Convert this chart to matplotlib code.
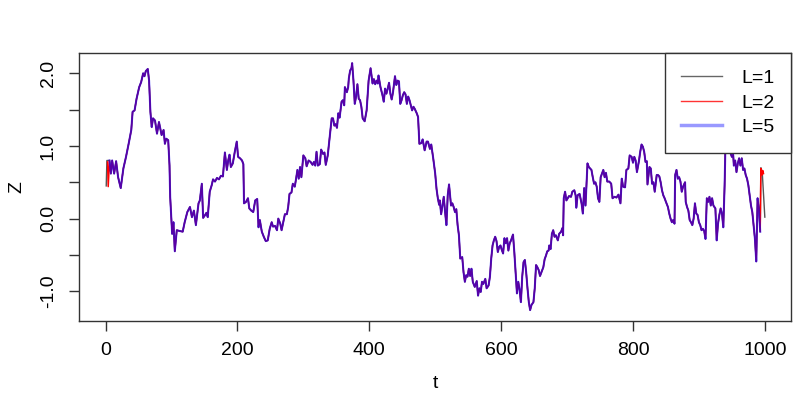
import matplotlib
matplotlib.use('Agg')
import matplotlib.pyplot as plt
from matplotlib.lines import Line2D

plt.rcParams['font.family'] = ['Liberation Sans', 'DejaVu Sans']

# values (shared path of the three series)
t = [6, 8, 10, 13, 16, 19, 23, 27, 31, 35, 39, 41, 44, 47, 51, 54, 57, 59, 61, 64,
     66, 68, 70, 72, 75, 78, 81, 85, 88, 90, 92, 95, 97, 98, 101, 103, 105, 108, 112, 117,
     120, 124, 128, 131, 134, 137, 141, 143, 146, 148, 151, 153, 155, 158, 161, 163, 166, 169, 172, 175,
     178, 181, 184, 186, 188, 190, 193, 196, 199, 201, 204, 207, 209, 210, 213, 216, 218, 221, 224, 227,
     230, 232, 234, 237, 240, 243, 246, 249, 252, 254, 257, 260, 262, 265, 267, 269, 272, 275, 277, 279,
     282, 284, 287, 289, 291, 293, 295, 297, 300, 303, 305, 308, 311, 314, 316, 318, 320, 322, 325, 327,
     330, 332, 334, 337, 340, 343, 345, 347, 349, 351, 353, 355, 358, 360, 362, 363, 366, 368, 369, 371,
     373, 374, 376, 378, 380, 382, 384, 386, 388, 390, 393, 396, 397, 399, 401, 402, 405, 407, 409, 411,
     413, 414, 417, 420, 422, 424, 426, 428, 430, 432, 434, 436, 439, 441, 443, 445, 447, 449, 451, 453,
     455, 457, 459, 461, 463, 465, 467, 469, 472, 474, 476, 479, 481, 484, 487, 489, 492, 494, 497, 500,
     502, 504, 506, 507, 509, 511, 513, 515, 517, 519, 521, 523, 524, 526, 528, 530, 532, 534, 536, 538,
     541, 543, 545, 547, 549, 551, 553, 555, 557, 560, 563, 565, 567, 569, 571, 573, 576, 578, 581, 583,
     585, 587, 589, 591, 593, 595, 597, 599, 601, 603, 605, 607, 609, 611, 613, 615, 618, 620, 622, 624,
     626, 628, 630, 632, 634, 636, 638, 640, 642, 644, 646, 649, 651, 653, 655, 657, 659, 662, 664, 666,
     668, 670, 672, 673, 675, 677, 679, 681, 683, 686, 688, 691, 693, 694, 695, 697, 699, 703, 706, 708,
     711, 713, 714, 716, 719, 722, 724, 726, 728, 731, 733, 737, 739, 741, 743, 745, 747, 749, 751, 753,
     755, 757, 759, 761, 764, 767, 769, 772, 775, 778, 781, 783, 785, 788, 790, 793, 795, 798, 800, 802,
     804, 806, 809, 811, 813, 815, 817, 819, 821, 822, 825, 827, 829, 831, 833, 836, 838, 840, 842, 844,
     846, 848, 850, 853, 855, 857, 859, 861, 863, 864, 866, 868, 870, 872, 874, 876, 877, 879, 880, 882,
     884, 886, 888, 890, 892, 894, 896, 898, 900, 902, 904, 906, 908, 910, 912, 914, 916, 918, 920, 922,
     925, 927, 929, 931, 933, 935, 937, 939, 940, 942, 945, 948, 950, 952, 953, 955, 957, 959, 961, 963,
     965, 967, 969, 971, 973, 975, 977, 979, 981, 983, 985, 987, 989, 991, 993]
z = [0.80, 0.62, 0.80, 0.62, 0.79, 0.57, 0.42, 0.69, 0.85, 1.03, 1.22, 1.47, 1.49, 1.65, 1.81, 1.88, 2.00, 1.96, 2.03, 2.06,
     1.90, 1.47, 1.26, 1.38, 1.35, 1.17, 1.33, 1.15, 1.22, 1.03, 1.10, 1.08, 0.73, 0.30, -0.21, -0.05, -0.45, -0.16, -0.17, -0.18,
     -0.05, 0.09, 0.16, 0.02, 0.11, -0.09, 0.21, 0.25, 0.48, 0.01, 0.05, 0.08, 0.02, 0.37, 0.46, 0.54, 0.51, 0.56, 0.54, 0.59,
     0.58, 0.91, 0.67, 0.80, 0.88, 0.71, 0.76, 0.92, 1.06, 0.85, 0.83, 0.80, 0.75, 0.21, 0.23, 0.28, 0.14, 0.11, 0.09, 0.25,
     0.27, -0.12, -0.02, -0.18, -0.25, -0.31, -0.30, -0.14, -0.05, -0.11, -0.10, -0.16, 0.00, -0.07, -0.16, -0.07, 0.06, 0.06, 0.16, 0.34,
     0.36, 0.48, 0.44, 0.55, 0.67, 0.55, 0.71, 0.57, 0.87, 0.83, 0.72, 0.80, 0.78, 0.74, 0.78, 0.73, 0.92, 0.73, 0.75, 0.95,
     0.89, 0.91, 0.74, 0.87, 1.12, 1.38, 1.38, 1.28, 1.30, 1.25, 1.45, 1.39, 1.61, 1.63, 1.56, 1.81, 1.74, 1.81, 1.93, 2.04,
     2.07, 2.14, 1.90, 1.58, 1.68, 1.85, 1.65, 1.63, 1.54, 1.38, 1.34, 1.49, 1.63, 1.90, 2.02, 2.07, 1.86, 1.92, 1.85, 1.90,
     1.86, 1.97, 1.81, 1.70, 1.61, 1.79, 1.72, 1.79, 1.87, 1.72, 1.64, 1.74, 1.96, 1.84, 1.90, 1.89, 1.58, 1.63, 1.70, 1.74,
     1.71, 1.58, 1.68, 1.63, 1.56, 1.49, 1.54, 1.51, 1.45, 1.40, 1.03, 1.04, 1.09, 0.94, 1.06, 1.06, 0.96, 1.02, 0.83, 0.62,
     0.41, 0.28, 0.19, 0.25, 0.06, 0.18, 0.30, 0.09, -0.09, 0.32, 0.47, 0.28, 0.18, 0.21, 0.16, 0.09, 0.13, -0.09, -0.23, -0.55,
     -0.53, -0.74, -0.87, -0.78, -0.80, -0.69, -0.79, -0.69, -0.87, -0.94, -0.86, -1.06, -0.96, -1.01, -0.87, -0.90, -0.83, -0.96, -0.92, -0.80,
     -0.55, -0.37, -0.30, -0.25, -0.31, -0.46, -0.39, -0.37, -0.43, -0.48, -0.27, -0.34, -0.27, -0.44, -0.34, -0.30, -0.22, -0.46, -0.74, -1.03,
     -0.87, -0.98, -1.15, -0.80, -0.60, -0.57, -0.74, -0.96, -1.15, -1.26, -1.19, -1.15, -0.96, -0.64, -0.67, -0.71, -0.79, -0.72, -0.67, -0.56,
     -0.51, -0.45, -0.44, -0.37, -0.42, -0.21, -0.16, -0.25, -0.23, -0.30, -0.21, -0.18, -0.13, -0.23, 0.28, 0.37, 0.25, 0.31, 0.30, 0.37,
     0.39, 0.32, 0.15, 0.32, 0.34, 0.21, 0.07, 0.42, 0.18, 0.76, 0.71, 0.67, 0.57, 0.48, 0.50, 0.44, 0.28, 0.23, 0.57, 0.62,
     0.67, 0.57, 0.63, 0.51, 0.51, 0.48, 0.28, 0.30, 0.29, 0.33, 0.21, 0.55, 0.44, 0.43, 0.67, 0.69, 0.87, 0.85, 0.77, 0.85,
     0.80, 0.64, 0.79, 0.92, 1.02, 0.99, 0.92, 0.78, 0.79, 0.47, 0.71, 0.69, 0.48, 0.50, 0.37, 0.60, 0.60, 0.58, 0.50, 0.39,
     0.32, 0.28, 0.23, 0.16, 0.07, 0.00, -0.05, -0.02, -0.07, 0.60, 0.67, 0.55, 0.57, 0.51, 0.37, 0.44, 0.46, 0.50, 0.23, 0.16,
     0.11, -0.02, -0.05, -0.09, 0.00, 0.21, 0.07, 0.05, -0.05, -0.09, -0.16, -0.14, -0.17, -0.28, 0.28, 0.23, 0.30, 0.18, 0.28, 0.18,
     0.14, -0.30, -0.07, 0.05, 0.14, 0.07, -0.12, 0.46, 0.90, 1.05, 1.10, 0.90, 0.85, 0.88, 0.73, 0.80, 0.64, 0.76, 0.83, 0.73,
     0.83, 0.67, 0.69, 0.60, 0.55, 0.46, 0.32, 0.18, 0.09, -0.09, -0.28, -0.59, 0.28, 0.14, -0.18]

# where the series part ways (start and end)
gray_head_t = [1, 2]
gray_head_z = [0.45, 0.80]
red_head_t = [3, 4]
red_head_z = [0.78, 0.44]
gray_tail_t = [994, 996, 1000]
gray_tail_z = [0.70, 0.65, 0.02]
red_tail_t = [994, 996, 997, 998]
red_tail_z = [0.69, 0.60, 0.66, 0.62]

labels = ['L=1', 'L=2', 'L=5']
x_ticks = [0, 200, 400, 600, 800, 1000]
y_ticks = [-1.0, -0.5, 0.0, 0.5, 1.0, 1.5, 2.0]
y_ticklabels = ['-1.0', '', '0.0', '', '1.0', '', '2.0']

fig = plt.figure(figsize=(8, 4), dpi=100)
ax = fig.add_axes([0.099, 0.1975, 0.89, 0.67])

ax.plot(gray_head_t + t + gray_tail_t, gray_head_z + z + gray_tail_z, color='#555555', lw=1)
ax.plot(red_head_t + t + red_tail_t, red_head_z + z + red_tail_z, color='red', lw=1.1)
ax.plot(t, z, color='#0000ff', alpha=0.65, lw=1.5)

ax.set_xlim(-40, 1040)
ax.set_ylim(-1.41, 2.28)
ax.set_xticks(x_ticks)
ax.set_xticklabels([str(v) for v in x_ticks], fontsize=14)
ax.set_yticks(y_ticks)
ax.set_yticklabels(y_ticklabels, fontsize=14, rotation=90, va='center')
ax.tick_params(axis='x', direction='out', length=7, width=1, color='#333333', pad=8)
ax.tick_params(axis='y', direction='out', length=7, width=1, color='#333333', pad=9)
for s in ax.spines.values():
    s.set_color('#333333')
    s.set_linewidth(1)

fig.text(435 / 800, 1 - 383 / 400, 't', fontsize=14, ha='center', va='center')
fig.text(17 / 800, 1 - 187 / 400, 'Z', fontsize=14, ha='center', va='center', rotation=90)

handles = [Line2D([], [], color='#666666', lw=1),
           Line2D([], [], color='#ff3333', lw=1),
           Line2D([], [], color='#9999ff', lw=2.5)]
leg = ax.legend(handles, labels, loc='upper right', bbox_to_anchor=(1, 1), borderaxespad=0,
                fancybox=False, edgecolor='#333333', fontsize=14, handlelength=2.1,
                handletextpad=1.0, labelspacing=0.35, borderpad=0.85, framealpha=1)
leg.get_frame().set_linewidth(1)

fig.savefig('out.png')
